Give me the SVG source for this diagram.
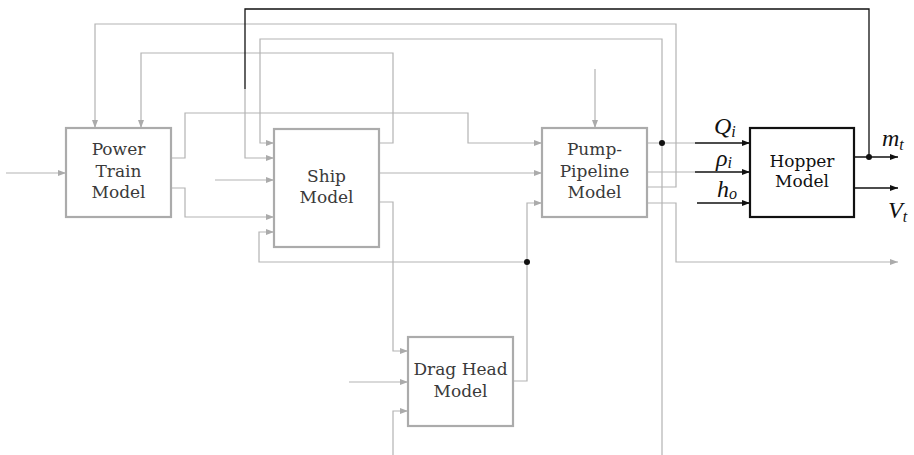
<svg xmlns="http://www.w3.org/2000/svg" width="914" height="455" viewBox="0 0 914 455">
<defs>
<marker id="ag" viewBox="0 0 8 6" refX="8" refY="3" markerWidth="8" markerHeight="6" markerUnits="userSpaceOnUse" orient="auto"><path d="M0,0 L8,3 L0,6 z" fill="#ababab"/></marker>
<marker id="ab" viewBox="0 0 8 6" refX="8" refY="3" markerWidth="8" markerHeight="6" markerUnits="userSpaceOnUse" orient="auto"><path d="M0,0 L8,3 L0,6 z" fill="#111"/></marker>
</defs>
<style>
.box{fill:#fff;stroke:#ababab;stroke-width:2.2}
.hbox{fill:#fff;stroke:#111;stroke-width:2.2}
.lbl{font-family:"DejaVu Serif","Liberation Serif",serif;font-size:17px;fill:#3a3a3a;text-anchor:middle}
.hl{fill:#111}
.g{fill:none;stroke:#b3b3b3;stroke-width:1.2}
.ga{fill:none;stroke:#b3b3b3;stroke-width:1.2;marker-end:url(#ag)}
.k{fill:none;stroke:#111;stroke-width:1.3}
.ka{fill:none;stroke:#111;stroke-width:1.3;marker-end:url(#ab)}
.math{font-family:"Liberation Serif","DejaVu Serif",serif;font-style:italic;fill:#111}
.dot{fill:#111}
</style>
<g id="connectors">
<path class="ga" d="M6,173 H66"/>
<path class="ga" d="M171,158 H185 V113 H468 V143 H542"/>
<path class="ga" d="M171,188 H185 V217 H274"/>
<path class="ga" d="M379,143 H393 V53 H141 V128"/>
<path class="ga" d="M647,187 H676 V24 H95 V128"/>
<path class="g" d="M647,143 H695"/>
<path class="ka" d="M695,143 H750"/>
<path class="ga" d="M662,455 V39 H260 V143 H274"/>
<path class="k" d="M869,157 V9 H245 V89"/>
<path class="ga" d="M245,89 V158 H274"/>
<path class="ga" d="M215,180 H274"/>
<path class="ga" d="M379,173 H542"/>
<path class="ga" d="M379,202 H393 V351 H408"/>
<path class="ga" d="M513,381 H527 V203 H542"/>
<path class="ga" d="M527,262 H259 V232 H274"/>
<path class="ga" d="M349,382 H408"/>
<path class="ga" d="M393,455 V411 H408"/>
<path class="ga" d="M595,69 V128"/>
<path class="g" d="M647,172 H695"/>
<path class="ka" d="M695,172 H750"/>
<path class="ga" d="M647,203 H676 V262 H898"/>
<path class="ka" d="M697,203 H750"/>
<path class="ka" d="M854,157 H898"/>
<path class="ka" d="M854,188 H898"/>
<circle class="dot" cx="662" cy="143" r="3"/>
<circle class="dot" cx="527" cy="262" r="3"/>
<circle class="dot" cx="869" cy="157" r="3"/>
</g>
<g id="power-train">
<rect class="box" x="66" y="128" width="105" height="89"/>
<text class="lbl" x="118.5" y="155">Power</text>
<text class="lbl" x="118.5" y="177">Train</text>
<text class="lbl" x="118.5" y="198">Model</text>
</g>
<g id="ship">
<rect class="box" x="274" y="129" width="105" height="118"/>
<text class="lbl" x="326.5" y="182">Ship</text>
<text class="lbl" x="326.5" y="203">Model</text>
</g>
<g id="pump-pipeline">
<rect class="box" x="542" y="128" width="105" height="89"/>
<text class="lbl" x="594.5" y="155">Pump-</text>
<text class="lbl" x="594.5" y="177">Pipeline</text>
<text class="lbl" x="594.5" y="198">Model</text>
</g>
<g id="drag-head">
<rect class="box" x="408" y="337" width="105" height="89"/>
<text class="lbl" x="460.5" y="375">Drag Head</text>
<text class="lbl" x="460.5" y="397">Model</text>
</g>
<g id="hopper">
<rect class="hbox" x="750" y="128" width="104" height="89"/>
<text class="lbl hl" x="802" y="167">Hopper</text>
<text class="lbl hl" x="802" y="187">Model</text>
</g>
<g id="labels">
<text class="math" x="714" y="134" font-size="24">Q<tspan font-size="16" dy="3">i</tspan></text>
<text class="math" x="716" y="166" font-size="24">ρ<tspan font-size="16" dy="2">i</tspan></text>
<text class="math" x="717" y="197" font-size="24">h<tspan font-size="16" dy="2">o</tspan></text>
<text class="math" x="882" y="146" font-size="24">m<tspan font-size="16" dy="4">t</tspan></text>
<text class="math" x="888" y="218" font-size="24">V<tspan font-size="16" dy="4">t</tspan></text>
</g>
</svg>
